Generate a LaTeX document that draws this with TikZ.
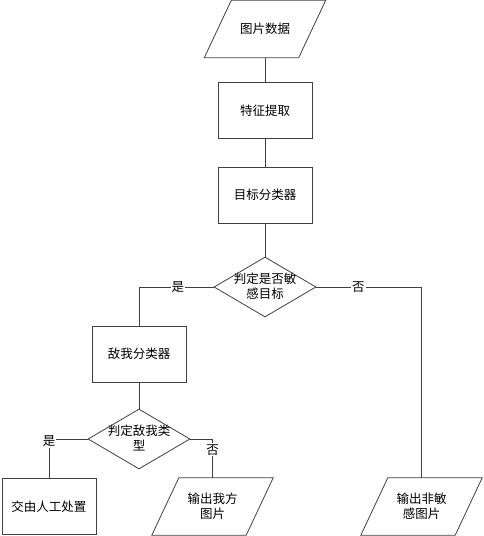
\documentclass[tikz,border=0pt]{standalone}
\usepackage{fontspec}
\setmainfont{Noto Sans CJK SC}
\usetikzlibrary{shapes.geometric}
\newcommand\iodraw[1]{\draw[line] ([xshift=13.5pt]#1.north west) -- ([xshift=13.5pt]#1.north east) -- ([xshift=-13.5pt]#1.south east) -- ([xshift=-13.5pt]#1.south west) -- cycle;}
\begin{document}
\begin{tikzpicture}[x=1pt,y=-1pt,
  every node/.style={font=\fontsize{12.5}{15}\selectfont, text=black},
  line/.style={draw=black!75, line width=0.8pt},
  procbox/.style={line, rectangle, minimum width=94pt, minimum height=56pt, inner sep=0pt},
  iobox/.style={rectangle, minimum width=94pt, minimum height=57pt, inner sep=0pt, align=center},
  decision/.style={line, diamond, minimum width=102pt, minimum height=60pt, inner sep=0pt},
  dtext/.style={align=center, inner sep=0pt},
  edgelabel/.style={fill=white, inner sep=1pt}
]
\useasboundingbox (0,0) rectangle (484,536);
\node[iobox] (pic) at (265,29) {图片数据};
\node[procbox] (feat) at (265,110.5) {特征提取};
\node[procbox] (cls) at (265,195) {目标分类器};
\node[decision] (d1) at (265,287) {};
\node[dtext] (d1t) at (265,286) {判定是否敏\\感目标};
\node[procbox] (enemy) at (139,354) {敌我分类器};
\node[decision] (d2) at (139,439) {};
\node[dtext] (d2t) at (139,438) {判定敌我类\\型};
\node[procbox] (manual) at (49,506.5) {交由人工处置};
\node[iobox] (out2) at (212.5,506.5) {输出我方\\图片};
\node[iobox] (out3) at (421.5,506.5) {输出非敏\\感图片};
\iodraw{pic}
\iodraw{out2}
\iodraw{out3}

\draw[line] (pic) -- (feat);
\draw[line] (feat) -- (cls);
\draw[line] (cls) -- (d1);
\draw[line] (d1.west) -| node[edgelabel, pos=0.24] {是} (enemy.north);
\draw[line] (d1.east) -| node[edgelabel, pos=0.2] {否} (out3.north);
\draw[line] (enemy) -- (d2);
\draw[line] (d2.west) -| node[edgelabel, pos=0.5, yshift=-2pt] {是} (manual.north);
\draw[line] (d2.east) -| node[edgelabel, pos=0.64] {否} (out2.north);
\end{tikzpicture}
\end{document}
